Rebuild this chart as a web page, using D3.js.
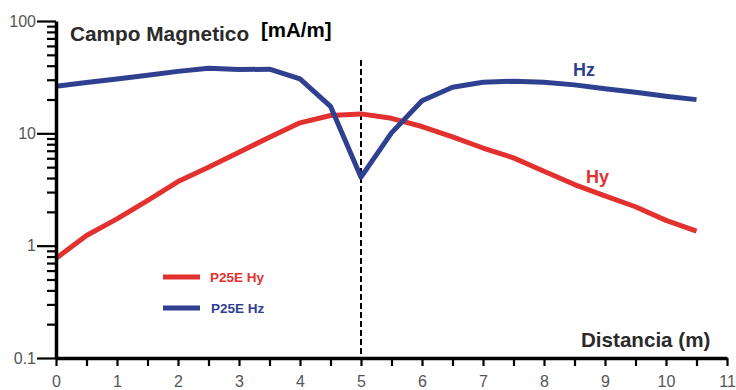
<!DOCTYPE html>
<html>
<head>
<meta charset="utf-8">
<script src="https://cdn.jsdelivr.net/npm/d3@7"></script>
<style>
  html, body { margin: 0; padding: 0; background: #fff; }
  svg { display: block; font-family: "Liberation Sans", Arial, sans-serif; }
</style>
</head>
<body>
<svg id="chart" width="736" height="390"></svg>
<script>
// ---- data ----
const distances = [0,0.5,1,1.5,2,2.5,3,3.5,4,4.5,5,5.5,6,6.5,7,7.5,8,8.5,9,9.5,10,10.5];
const hyValues = [0.77,1.23,1.73,2.52,3.72,4.99,6.79,9.23,12.4,14.4,14.9,13.6,11.5,9.3,7.4,6.05,4.6,3.5,2.78,2.22,1.68,1.35];
const hzValues = [26.3,28.3,30.5,32.9,35.6,38.0,37.0,37.2,30.5,17.4,4.07,10.1,19.5,25.7,28.5,29.1,28.5,27.0,24.9,23.2,21.4,19.95];
const seriesNames = ["P25E Hy", "P25E Hz"];
const seriesLabels = ["Hy", "Hz"];
const xTickValues = d3.range(0, 11.01, 0.5);
const yMajorTicks = [0.1, 1, 10, 100];
const yMinorTicks = [0.2,0.3,0.4,0.5,0.6,0.7,0.8,0.9,2,3,4,5,6,7,8,9,20,30,40,50,60,70,80,90];
const markerX = 5;

const RED = "#e2312e", BLUE = "#2f4091";

const svg = d3.select("#chart");
const x = d3.scaleLinear().domain([0, 11]).range([56, 727]);
const y = d3.scaleLog().domain([0.1, 100]).range([358, 21]);

// dashed marker
svg.append("line")
  .attr("x1", x(markerX)).attr("x2", x(markerX))
  .attr("y1", 60).attr("y2", y(0.1))
  .attr("stroke", "#000").attr("stroke-width", 2)
  .attr("stroke-dasharray", "6,3");

// lines
const line = d3.line().x((d, i) => x(distances[i])).y(d => y(d));
svg.append("path").datum(hyValues).attr("d", line)
  .attr("fill", "none").attr("stroke", RED).attr("stroke-width", 5)
  .attr("stroke-linejoin", "round");
svg.append("path").datum(hzValues).attr("d", line)
  .attr("fill", "none").attr("stroke", BLUE).attr("stroke-width", 5)
  .attr("stroke-linejoin", "round");

// y axis minor
const yMinor = svg.append("g").attr("transform", `translate(${x(0)},0)`)
  .call(d3.axisLeft(y).tickValues(yMinorTicks).tickSize(9).tickSizeOuter(0).tickFormat(""));
yMinor.select(".domain").remove();
yMinor.selectAll(".tick line").attr("stroke", "#000").attr("stroke-width", 2.2);

// y axis major
const yMajor = svg.append("g").attr("transform", `translate(${x(0)},0)`)
  .call(d3.axisLeft(y).tickValues(yMajorTicks).tickSize(19).tickSizeOuter(0).tickPadding(1)
    .tickFormat(d => d3.format("~g")(d)));
yMajor.select(".domain").attr("stroke", "#000").attr("stroke-width", 3.5);
yMajor.selectAll(".tick line").attr("stroke", "#000").attr("stroke-width", 2.2);
yMajor.selectAll(".tick text").attr("font-size", 16).attr("fill", "#555")
  .attr("font-family", "Liberation Sans, Arial, sans-serif");

// x axis
const xAxis = svg.append("g").attr("transform", `translate(0,${y(0.1)})`)
  .call(d3.axisBottom(x).tickValues(xTickValues).tickSize(8).tickSizeOuter(0).tickPadding(10)
    .tickFormat(d => Number.isInteger(d) ? d : ""));
xAxis.select(".domain").attr("stroke", "#000").attr("stroke-width", 3.5);
xAxis.selectAll(".tick line").attr("stroke", "#000").attr("stroke-width", 2.2);
xAxis.selectAll(".tick text").attr("font-size", 16).attr("fill", "#555")
  .attr("font-family", "Liberation Sans, Arial, sans-serif");

// titles
svg.append("text").attr("x", 70).attr("y", 41)
  .attr("font-size", 20.8).attr("font-weight", "bold").attr("fill", "#2a2a2a")
  .text("Campo Magnetico");
svg.append("text").attr("x", 261).attr("y", 37)
  .attr("font-size", 20.5).attr("font-weight", "bold").attr("fill", "#000")
  .text("[mA/m]");
svg.append("text").attr("x", 581).attr("y", 347)
  .attr("font-size", 20.6).attr("font-weight", "bold").attr("fill", "#2a2a2a")
  .text("Distancia (m)");

// series labels
svg.append("text").attr("x", 573).attr("y", 76)
  .attr("font-size", 18).attr("font-weight", "bold").attr("fill", BLUE)
  .text(seriesLabels[1]);
svg.append("text").attr("x", 586).attr("y", 183)
  .attr("font-size", 18).attr("font-weight", "bold").attr("fill", RED)
  .text(seriesLabels[0]);

// legend
const legend = [{name: seriesNames[0], color: RED, y: 277, tx: 210},
                {name: seriesNames[1], color: BLUE, y: 308, tx: 211}];
const lg = svg.append("g");
lg.selectAll("line").data(legend).join("line")
  .attr("x1", 163).attr("x2", 200).attr("y1", d => d.y).attr("y2", d => d.y)
  .attr("stroke", d => d.color).attr("stroke-width", 5);
lg.selectAll("text").data(legend).join("text")
  .attr("x", d => d.tx).attr("y", d => d.y).attr("dy", "0.36em")
  .attr("font-size", 13.5).attr("font-weight", "bold").attr("fill", d => d.color)
  .text(d => d.name);
</script>
</body>
</html>
